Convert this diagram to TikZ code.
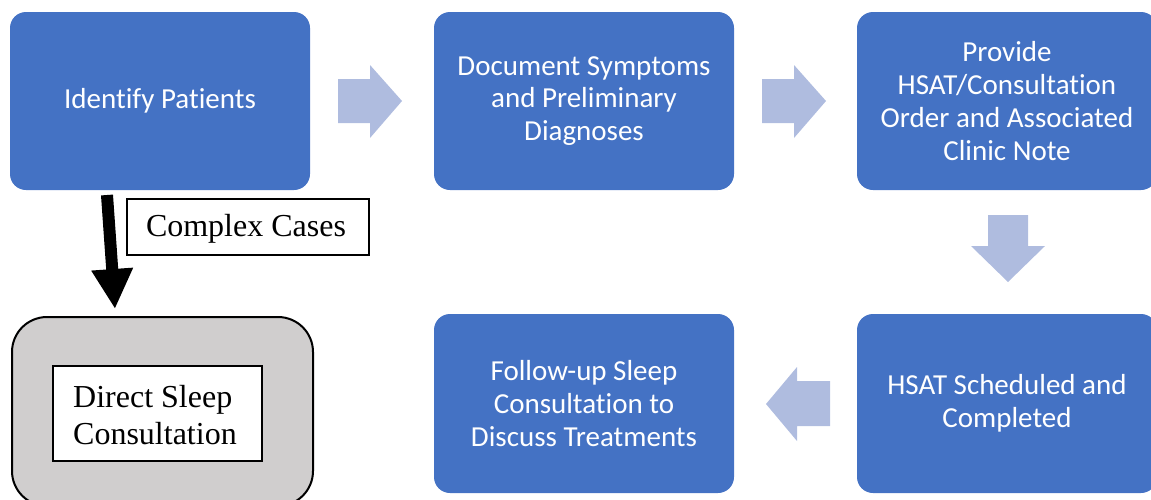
\documentclass[tikz,border=0pt]{standalone}
\usepackage{fontspec}
\setmainfont[Ligatures=NoCommon]{Carlito}
\newfontfamily\tnr{Liberation Serif}
\usetikzlibrary{arrows.meta}
\definecolor{blu}{HTML}{4472C4}
\definecolor{lightarrow}{HTML}{AFBCDF}
\definecolor{grayfill}{HTML}{D0CECE}
\tikzset{
  bluebox/.style={fill=blu, rounded corners=16pt, text=white, align=center,
    font=\fontsize{29}{32.7}\selectfont, minimum width=300pt, minimum height=178pt, inner sep=0pt},
  blockarrow/.style={fill=lightarrow, draw=none},
  serifbox/.style={draw=black, fill=white, line width=1.4pt, inner sep=0pt},
  seriftext/.style={font=\tnr\fontsize{32}{37.5}\selectfont},
}
\begin{document}
\begin{tikzpicture}[x=1pt,y=-1pt]
\useasboundingbox (0,0) rectangle (1151,499);
\clip (0,0) rectangle (1151,499);
% blue boxes
\node[bluebox] (b1) at (160,101) {Identify Patients};
\node[bluebox] (b2) at (584,101) {Document Symptoms\\and Preliminary\\Diagnoses};
\node[bluebox] (b3) at (1007,101) {Provide\\HSAT/Consultation\\Order and Associated\\Clinic Note};
\node[bluebox, minimum height=179pt] (b4) at (1007,403.5) {HSAT Scheduled and\\Completed};
\node[bluebox, minimum height=179pt] (b5) at (584,403.5) {Follow-up Sleep\\Consultation to\\Discuss Treatments};
% light block arrows
\fill[blockarrow] (338,79) -- (370,79) -- (370,65) -- (402,101) -- (370,138) -- (370,123) -- (338,123) -- cycle;
\fill[blockarrow] (762,79) -- (794,79) -- (794,65) -- (826,101) -- (794,138) -- (794,123) -- (762,123) -- cycle;
\fill[blockarrow] (988,215) -- (1028,215) -- (1028,246) -- (1045,246) -- (1008,282) -- (971,246) -- (988,246) -- cycle;
\fill[blockarrow] (830,381) -- (797,381) -- (797,367) -- (766,404) -- (797,441) -- (797,426) -- (830,426) -- cycle;
% gray box
\draw[fill=grayfill, line width=2pt, rounded corners=35pt] (12,317) rectangle (313,506);
\node[serifbox, minimum width=209pt, minimum height=95pt] (ds) at (157.5,413.5) {};
\node[seriftext, align=left, anchor=west, inner sep=0pt] (dst) at (73,415) {Direct Sleep\\Consultation};
% complex cases
\node[serifbox, minimum width=242pt, minimum height=56pt] (cc) at (248,227) {};
\node[seriftext, inner sep=0pt] (cct) at (246,229) {Complex Cases};
% black arrow
\coordinate (as) at (107,195);
\coordinate (ae) at (115,309);
\draw[line width=12pt, -{Triangle[width=39pt,length=40pt]}] (as) -- (ae);
\end{tikzpicture}
\end{document}
